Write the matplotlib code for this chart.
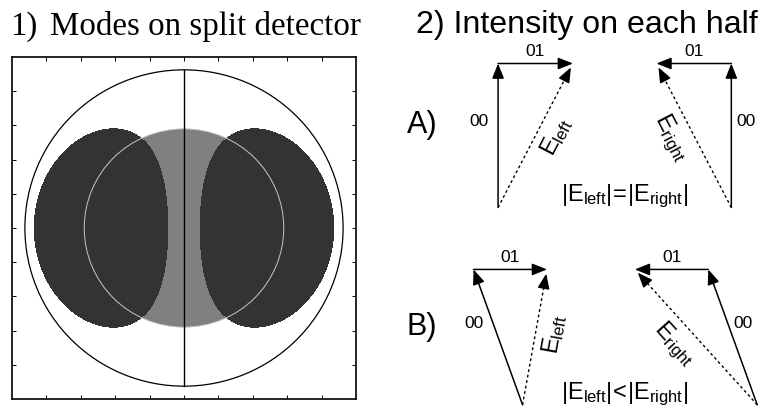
"""Split-detector sketch: HG mode overlap and phasor sums on each half."""

import matplotlib

matplotlib.use("Agg")
import matplotlib.pyplot as plt
import numpy as np
from matplotlib.patches import Circle

plt.rcParams["mathtext.fontset"] = "custom"
plt.rcParams["mathtext.rm"] = "Liberation Sans"
plt.rcParams["mathtext.it"] = "Liberation Sans:italic"
plt.rcParams["mathtext.bf"] = "Liberation Sans:bold"

SERIF = "Liberation Serif"
SANS = "Liberation Sans"

# panel 1: 00 mode waist and detector radius (axes span -1..1)
BEAM_WAIST = 0.58
DETECTOR_RADIUS = 0.925
TICKS = np.arange(-0.8, 0.81, 0.2)

# panel 2: one row per case, a left and a right phasor sum
ROW_LABELS = ["A)", "B)"]
RELATIONS = ["=", "<"]
BASE_Y = [1.42, 0.05]
BASE_X_LEFT = [0.82, 0.99]
BASE_X_RIGHT = [2.44, 2.62]
MODE00_X = [0.0, -0.34]
MODE00_Y = [1.0, 0.94]
MODE01_LEN = [0.52, 0.51]

DARK = "#333333"
MID_GRAY = "#808080"
RING_GRAY = "#c8c8c8"


def main() -> None:
    fig = plt.figure(figsize=(7.63, 4.12), dpi=100)
    fig.text(10 / 763, 1 - 35 / 412, "1)", family=SERIF, fontsize=23.5, ha="left", va="baseline")
    fig.text(50 / 763, 1 - 35 / 412, "Modes on split detector", family=SERIF, fontsize=23.8,
             ha="left", va="baseline")
    fig.text(416 / 763, 1 - 33 / 412, "2) Intensity on each half", family=SANS, fontsize=23.1,
             ha="left", va="baseline")

    ax = fig.add_axes([12 / 763, 13 / 412, 344 / 763, 342 / 412])
    plot_detector(ax)

    ax2 = fig.add_axes([380 / 763, 0, 383 / 763, 1])
    ax2.set_xlim(0, 2.66)
    ax2.set_ylim(0, 2.861)
    ax2.axis("off")
    for row in range(len(ROW_LABELS)):
        plot_row(ax2, row)

    fig.savefig("out.png", dpi=100)
    plt.close(fig)


def plot_detector(ax) -> None:
    grid = np.linspace(-1, 1, 901)
    xx, yy = np.meshgrid(grid, grid)
    r2 = (xx ** 2 + yy ** 2) / BEAM_WAIST ** 2
    hg10 = (xx / BEAM_WAIST) ** 2 * np.exp(-2 * r2)
    level = hg10.max() * np.exp(-2)

    ax.add_patch(Circle((0, 0), BEAM_WAIST, facecolor=MID_GRAY, edgecolor="none", zorder=1))
    ax.contourf(xx, yy, hg10, levels=[level, hg10.max() * 1.01], colors=[DARK], zorder=2)
    ax.add_patch(Circle((0, 0), BEAM_WAIST, facecolor="none", edgecolor=RING_GRAY, lw=0.7, zorder=3))
    ax.add_patch(Circle((0, 0), DETECTOR_RADIUS, facecolor="none", edgecolor="black", lw=0.9, zorder=4))
    ax.plot([0, 0], [-DETECTOR_RADIUS, DETECTOR_RADIUS], color="black", lw=1.0, zorder=5)

    ax.set_xlim(-1, 1)
    ax.set_ylim(-1, 1)
    ax.set_xticks(TICKS)
    ax.set_yticks(TICKS)
    ax.tick_params(direction="in", length=3, width=0.7, top=True, right=True,
                   labelbottom=False, labelleft=False)
    for spine in ax.spines.values():
        spine.set_linewidth(1.2)


def arrow(ax, start, end) -> None:
    ax.annotate(
        "",
        xy=end,
        xytext=start,
        arrowprops=dict(arrowstyle="-|>,head_length=0.9,head_width=0.36", color="black",
                        lw=1.1, shrinkA=0, shrinkB=0, mutation_scale=10),
    )


def dashed_arrow(ax, start, end) -> None:
    start = np.asarray(start)
    end = np.asarray(end)
    unit = (end - start) / np.hypot(*(end - start))
    tip = end - unit * 0.03
    ax.plot([start[0], tip[0] - unit[0] * 0.05], [start[1], tip[1] - unit[1] * 0.05],
            color="black", lw=1.0, linestyle=(0, (2, 2)))
    arrow(ax, tip - unit * 0.06, tip)


def plot_phasor(ax, base, v00, v01, side, t_label) -> None:
    base = np.asarray(base)
    top = base + v00
    tip = top + v01
    arrow(ax, base, top)
    arrow(ax, top, tip)
    dashed_arrow(ax, base, tip)

    ax.text(top[0] + v01[0] / 2, top[1] + 0.085, "01", family=SANS, fontsize=12.5,
            ha="center", va="center")
    mid = base + v00 * 0.6
    dx = -0.13 if side == "left" else 0.105
    ax.text(mid[0] + dx, mid[1], "00", family=SANS, fontsize=12.5, ha="center", va="center")

    ev = tip - base
    length = np.hypot(*ev)
    unit = ev / length
    angle = np.degrees(np.arctan2(ev[1], ev[0]))
    if side == "left":
        perp = np.array([unit[1], -unit[0]])
        offset = 0.13
    else:
        perp = np.array([-unit[1], unit[0]])
        angle -= 180
        offset = 0.15
    pos = base + ev * 0.55 + perp * offset
    ax.text(pos[0], pos[1], t_label, fontsize=17, rotation=angle, rotation_mode="anchor",
            ha="center", va="center")


def plot_row(ax, row: int) -> None:
    v00 = np.array([MODE00_X[row], MODE00_Y[row]])
    plot_phasor(ax, (BASE_X_LEFT[row], BASE_Y[row]), v00, np.array([MODE01_LEN[row], 0.0]),
                "left", r"$\mathrm{E}_{\mathrm{left}}$")
    plot_phasor(ax, (BASE_X_RIGHT[row], BASE_Y[row]), v00, np.array([-MODE01_LEN[row], 0.0]),
                "right", r"$\mathrm{E}_{\mathrm{right}}$")

    ax.text(0.29, BASE_Y[row] + MODE00_Y[row] * 0.5 + 0.07, ROW_LABELS[row], family=SANS,
            fontsize=22, ha="center", va="center")
    rel = RELATIONS[row]
    ax.text(1.70, BASE_Y[row] + 0.075,
            r"$|\mathrm{E}_{\mathrm{left}}|\!%s\!|\mathrm{E}_{\mathrm{right}}|$" % rel,
            fontsize=17, ha="center", va="center")


if __name__ == "__main__":
    main()
